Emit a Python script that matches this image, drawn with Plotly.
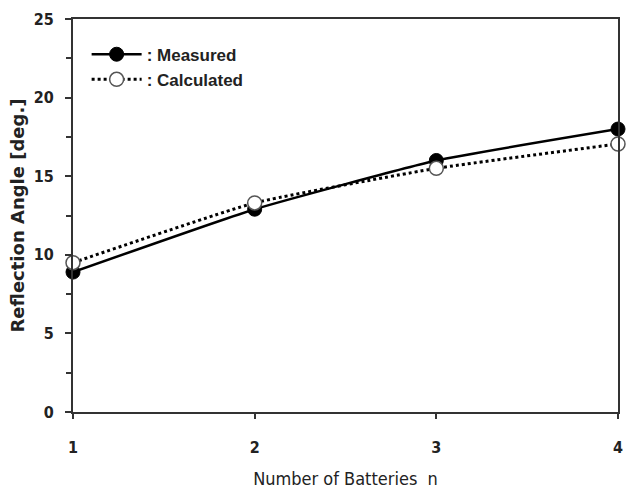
import plotly.graph_objects as go

n = [1, 2, 3, 4]
measured = [8.9, 12.9, 16.0, 18.0]
calculated = [9.5, 13.3, 15.5, 17.05]
y_ticks = [0, 5, 10, 15, 20, 25]

fig = go.Figure()
fig.add_trace(go.Scatter(
    x=n, y=measured, mode="lines+markers", name=": Measured",
    line=dict(color="black", width=2.5, shape="spline", smoothing=0.4),
    marker=dict(symbol="circle", size=14, color="black", line=dict(color="black", width=1)),
    cliponaxis=False,
))
fig.add_trace(go.Scatter(
    x=n, y=calculated, mode="lines+markers", name=": Calculated",
    line=dict(color="black", width=3, dash="dot", shape="spline", smoothing=0.4),
    marker=dict(symbol="circle", size=14, color="white", line=dict(color="#555555", width=1.5)),
    cliponaxis=False,
))

fig.update_layout(
    width=633, height=490,
    margin=dict(l=73, r=15, t=19, b=78),
    paper_bgcolor="white", plot_bgcolor="white",
    showlegend=True,
    legend=dict(
        x=0.025, y=0.955, xanchor="left", yanchor="top",
        bgcolor="rgba(0,0,0,0)",
        font=dict(family="Liberation Sans", size=17, color="#222", weight="bold"),
        itemwidth=50, tracegroupgap=2,
    ),
    font=dict(family="DejaVu Sans Condensed", color="#222"),
)
fig.update_xaxes(
    range=[1, 4], tickvals=n, ticktext=[str(v) for v in n],
    showline=True, linecolor="#333", linewidth=2, mirror=True,
    ticks="outside", ticklen=5, tickwidth=1.5, tickcolor="#333",
    showgrid=False, zeroline=False, ticklabelstandoff=15, automargin=False,
    tickfont=dict(size=16, family="DejaVu Sans Condensed", weight="bold"),
    title=dict(text="Number of Batteries  n", font=dict(size=18, family="DejaVu Sans Condensed"), standoff=16),
)
fig.update_yaxes(
    range=[0, 25], tickvals=y_ticks,
    showline=True, linecolor="#333", linewidth=2, mirror=True,
    ticks="outside", ticklen=6, tickwidth=1.5, tickcolor="#333",
    minor=dict(dtick=2.5, ticks="outside", ticklen=5, tickcolor="#333", tickwidth=1.5),
    showgrid=False, zeroline=False, ticklabelstandoff=8, automargin=False,
    tickfont=dict(size=16, family="DejaVu Sans Condensed", weight="bold"),
    title=dict(text="<b>Reflection Angle [deg.]</b>", font=dict(size=18, family="DejaVu Sans"), standoff=4),
)
fig.write_html("out.html")
